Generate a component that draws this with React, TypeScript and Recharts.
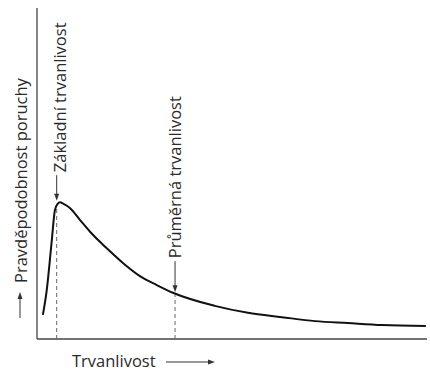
import React from "react";
import { LineChart, Line, XAxis, YAxis, ReferenceLine } from "recharts";

// Curve samples (life vs. failure probability)
const lifeValues = [1.5, 2.5, 3.8, 4.6, 5.3, 5.9, 6.7, 8.5, 11.0, 13.6, 17.9, 22.1, 26.4, 30.7, 35.0, 45.6, 54.1, 62.8, 71.3, 79.7, 88.5, 99.7];
const probabilityValues = [7.3, 14.8, 29.9, 39.0, 40.8, 41.3, 40.9, 39.5, 36.0, 32.4, 27.4, 22.9, 19.0, 16.3, 13.9, 10.0, 7.9, 6.6, 5.4, 4.8, 4.2, 3.9];

// Marker positions on the life axis
const baseLife = 5.05;
const meanLife = 35.4;
const baseLifeCurve = 39.5;
const meanLifeCurve = 13.3;
const baseArrow = [49.5, 41.8];
const meanArrow = [23.5, 14.1];

const labels = {
  y: "Pravděpodobnost poruchy",
  x: "Trvanlivost",
  base: "Základní trvanlivost",
  mean: "Průměrná trvanlivost",
};

const data = lifeValues.map((x, i) => ({ x, p: probabilityValues[i] }));

const FONT = "'Open Sans', sans-serif";
const TEXT_COLOR = "#2a2a2a";
const FONT_SIZE = 16.5;
const FONT_WEIGHT = 400;

const arrowDown = (text: string, offset: number) => (props: any) => {
  const { x1, y1, x2, y2 } = props;
  const top = Math.min(y1, y2);
  const bottom = Math.max(y1, y2);
  const x = x1;
  return (
    <g>
      <line x1={x} y1={top} x2={x} y2={bottom - 5} stroke="#333" strokeWidth={1} />
      <polygon points={`${x - 2.5},${bottom - 7} ${x + 2.5},${bottom - 7} ${x},${bottom}`} fill="#333" />
      <text
        x={x + offset}
        y={top - 3}
        transform={`rotate(-90, ${x + offset}, ${top - 3})`}
        fontFamily={FONT}
        fontWeight={FONT_WEIGHT}
        fontSize={FONT_SIZE}
        fill={TEXT_COLOR}
        textAnchor="start"
      >
        {text}
      </text>
    </g>
  );
};

const yAxisShape = (props: any) => {
  const { x1, y1, x2, y2 } = props;
  const top = Math.min(y1, y2);
  const bottom = Math.max(y1, y2);
  const ax = x1 - 17;
  const bx = x1 - 10;
  const ty = bottom - 56;
  return (
    <g>
      <line x1={x1} y1={top} x2={x2} y2={bottom} stroke="#444" strokeWidth={1.3} />
      <line x1={ax} y1={bottom - 21} x2={ax} y2={bottom - 41} stroke="#333" strokeWidth={1} />
      <polygon points={`${ax - 2.5},${bottom - 40} ${ax + 2.5},${bottom - 40} ${ax},${bottom - 47}`} fill="#333" />
      <text
        x={bx}
        y={ty}
        transform={`rotate(-90, ${bx}, ${ty})`}
        fontFamily={FONT}
        fontWeight={FONT_WEIGHT}
        fontSize={FONT_SIZE}
        fill={TEXT_COLOR}
        textAnchor="start"
      >
        {labels.y}
      </text>
    </g>
  );
};

const xAxisShape = (props: any) => {
  const { x1, y1, x2 } = props;
  const left = Math.min(x1, x2);
  const right = Math.max(x1, x2);
  const tx = left + 35;
  const ty = y1 + 28;
  return (
    <g>
      <line x1={left} y1={y1} x2={right} y2={y1} stroke="#444" strokeWidth={1.3} />
      <text x={tx} y={ty} fontFamily={FONT} fontWeight={FONT_WEIGHT} fontSize={FONT_SIZE} fill={TEXT_COLOR}>
        {labels.x}
      </text>
      <line x1={left + 129} y1={ty - 5} x2={left + 172} y2={ty - 5} stroke="#333" strokeWidth={1} />
      <polygon points={`${left + 171},${ty - 7.5} ${left + 171},${ty - 2.5} ${left + 178},${ty - 5}`} fill="#333" />
    </g>
  );
};

export default function App() {
  return (
    <div style={{ position: "absolute", left: 0, top: 0, width: 430, height: 372, background: "#fff" }}>
      <LineChart width={430} height={372} data={data} margin={{ top: 8, right: 3, bottom: 33, left: 37 }}>
        <XAxis dataKey="x" type="number" domain={[0, 100]} hide />
        <YAxis type="number" domain={[0, 100]} hide />
        <ReferenceLine segment={[{ x: 0, y: 0 }, { x: 0, y: 100 }]} shape={yAxisShape} />
        <ReferenceLine segment={[{ x: 0, y: 0 }, { x: 100, y: 0 }]} shape={xAxisShape} />
        <ReferenceLine
          segment={[{ x: baseLife, y: 0 }, { x: baseLife, y: baseLifeCurve }]}
          stroke="#666"
          strokeWidth={1}
          strokeDasharray="4 3"
        />
        <ReferenceLine
          segment={[{ x: meanLife, y: 0 }, { x: meanLife, y: meanLifeCurve }]}
          stroke="#666"
          strokeWidth={1}
          strokeDasharray="4 3"
        />
        <ReferenceLine
          segment={[{ x: baseLife, y: baseArrow[0] }, { x: baseLife, y: baseArrow[1] }]}
          shape={arrowDown(labels.base, 9)}
        />
        <ReferenceLine
          segment={[{ x: meanLife, y: meanArrow[0] }, { x: meanLife, y: meanArrow[1] }]}
          shape={arrowDown(labels.mean, 6)}
        />
        <Line
          type="monotone"
          dataKey="p"
          stroke="#111"
          strokeWidth={2}
          dot={false}
          isAnimationActive={false}
        />
      </LineChart>
    </div>
  );
}
